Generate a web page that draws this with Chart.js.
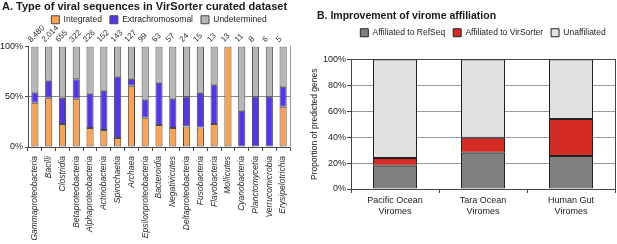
<!DOCTYPE html>
<html>
<head>
<meta charset="utf-8">
<script src="https://cdn.jsdelivr.net/npm/chart.js@4"></script>
<style>
  html, body { margin: 0; padding: 0; background: #fff; overflow: hidden; }
  body { width: 617px; height: 244px; position: relative; font-family: 'Liberation Sans', Arial, sans-serif; color: #1a1a1a; }
  .panel-title { position: absolute; font-weight: bold; white-space: nowrap; z-index: 2; }
  .box { position: absolute; top: 0; height: 244px; }
</style>
</head>
<body>
<div class="panel-title" style="left:2px; top:1px; font-size:11px; line-height:11px;">A. Type of viral sequences in VirSorter curated dataset</div>
<div class="panel-title" style="left:317px; top:10px; font-size:10.5px; line-height:10.5px;">B. Improvement of virome affiliation</div>
<div class="box" style="left:0; width:300px;"><canvas id="chartA"></canvas></div>
<div class="box" style="left:308px; width:309px;"><canvas id="chartB"></canvas></div>

<script>
// ---- panel A data ----
const groups = [
  'Gammaproteobacteria', 'Bacilli', 'Clostridia', 'Betaproteobacteria', 'Alphaproteobacteria',
  'Actinobacteria', 'Spirochaetia', 'Archaea', 'Epsilonproteobacteria', 'Bacteroidia',
  'Negativicutes', 'Deltaproteobacteria', 'Fusobacteria', 'Flavobacteria', 'Mollicutes',
  'Cyanobacteria', 'Planctomycetia', 'Verrucomicrobia', 'Erysipelotrichia'
];
const counts = ['8,480', '2,014', '655', '322', '226', '152', '143', '127', '99', '63',
                '57', '24', '15', '13', '13', '11', '8', '6', '5'];
const integrated       = [44, 49, 23, 48, 19, 17, 9, 61, 29, 22, 19, 20.5, 19.5, 23, 100, null, null, null, 40];
const extrachromosomal = [10, 17, 26, 19.5, 34, 39, 61, 7, 18, 42, 29, 29.5, 34.5, 39, null, 36, 50, 50, 20];
const undetermined     = [46, 34, 51, 32.5, 47, 44, 30, 32, 53, 36, 52, 50, 46, 38, null, 64, 50, 50, 40];

// ---- panel B data ----
const viromes = [['Pacific Ocean', 'Viromes'], ['Tara Ocean', 'Viromes'], ['Human Gut', 'Viromes']];
const refseq       = [18, 28, 25.5];
const virsorter    = [6, 11.5, 28.5];
const unaffiliated = [76, 60.5, 46];

Chart.defaults.font.family = "'Liberation Sans', Arial, sans-serif";
Chart.defaults.color = '#1a1a1a';
Chart.defaults.animation = false;

const pct = v => v + '%';

// sample sizes, written at 45deg above each bar of panel A
const countLabels = {
  id: 'countLabels',
  afterDraw(chart) {
    const { ctx, chartArea, scales: { x } } = chart;
    ctx.save();
    ctx.font = "8px 'Liberation Sans', Arial, sans-serif";
    ctx.fillStyle = '#333';
    ctx.textAlign = 'left';
    ctx.textBaseline = 'alphabetic';
    counts.forEach((c, i) => {
      ctx.save();
      ctx.translate(x.getPixelForValue(i) - 4, chartArea.top - 4);
      ctx.rotate(-Math.PI / 4);
      ctx.fillText(c, 0, 0);
      ctx.restore();
    });
    ctx.restore();
  },
};

// ---- A. stacked bars per taxon ----
new Chart(document.getElementById('chartA'), {
  type: 'bar',
  data: {
    labels: groups,
    datasets: [
      { label: 'Integrated',       data: integrated,       backgroundColor: '#FBA152' },
      { label: 'Extrachromosomal', data: extrachromosomal, backgroundColor: '#5534EC' },
      { label: 'Undetermined',     data: undetermined,     backgroundColor: '#B6B6B6' },
    ].map(d => ({ ...d, borderColor: '#4a4a4a', borderWidth: 1, borderSkipped: false,
                  barPercentage: 0.52, categoryPercentage: 1 })),
  },
  plugins: [countLabels],
  options: {
    responsive: true,
    maintainAspectRatio: false,
    layout: { padding: { top: 7.5, right: 10, left: 0, bottom: 0 } },
    plugins: {
      legend: {
        fullSize: false,
        labels: { boxWidth: 8, boxHeight: 8, padding: 8, font: { size: 8.5 } },
      },
      tooltip: { enabled: false },
    },
    scales: {
      x: {
        stacked: true,
        grid: { offset: true, drawOnChartArea: false, tickLength: 4, color: '#4a4a4a' },
        border: { color: '#4a4a4a' },
        ticks: { autoSkip: false, minRotation: 90, maxRotation: 90, padding: 5,
                 color: '#2a2a2a', font: { size: 8.5, style: 'italic' } },
        afterFit: s => { s.height = 97; },
      },
      // empty top axis: room for the counts under the legend
      x2: {
        position: 'top',
        grid: { display: false },
        border: { display: false },
        ticks: { display: false },
        afterFit: s => { s.height = 12.5; },
      },
      y: {
        stacked: true,
        min: 0,
        max: 100,
        ticks: { stepSize: 50, callback: pct, padding: 2, font: { size: 9 } },
        grid: { color: c => c.tick.value === 50 ? '#8c8c8c' : 'rgba(0,0,0,0)', tickColor: '#4a4a4a', tickLength: 3 },
        border: { color: '#4a4a4a' },
        afterFit: s => { s.width = 28; },
      },
      y2: {
        position: 'right',
        grid: { display: false },
        ticks: { display: false },
        border: { color: '#999' },
        afterFit: s => { s.width = 0; },
      },
    },
  },
});

// ---- B. virome affiliation ----
new Chart(document.getElementById('chartB'), {
  type: 'bar',
  data: {
    labels: viromes,
    datasets: [
      { label: 'Affiliated to RefSeq',    data: refseq,       backgroundColor: '#808080' },
      { label: 'Affiliated to VirSorter', data: virsorter,    backgroundColor: '#D42B25' },
      { label: 'Unaffiliated',            data: unaffiliated, backgroundColor: '#E0E0E0' },
    ].map(d => ({ ...d, borderColor: '#222', borderWidth: 1, borderSkipped: false,
                  barPercentage: 0.5, categoryPercentage: 1 })),
  },
  options: {
    responsive: true,
    maintainAspectRatio: false,
    layout: { padding: { top: 20.5, right: 2, left: 0, bottom: 0 } },
    plugins: {
      legend: {
        fullSize: false,
        labels: { boxWidth: 8, boxHeight: 8, padding: 8, font: { size: 8.5 } },
      },
      tooltip: { enabled: false },
    },
    scales: {
      x: {
        stacked: true,
        grid: { offset: true, drawOnChartArea: false, tickLength: 4, color: '#444' },
        border: { color: '#444' },
        ticks: { maxRotation: 0, padding: 2, font: { size: 9 } },
        afterFit: s => { s.height = 55; },
      },
      // empty top axis: keeps the gap under the legend
      x2: {
        position: 'top',
        grid: { display: false },
        border: { display: false },
        ticks: { display: false },
        afterFit: s => { s.height = 12.5; },
      },
      y: {
        stacked: true,
        min: 0,
        max: 100,
        ticks: { stepSize: 20, callback: pct, padding: 1, font: { size: 9 } },
        grid: { color: c => c.tick.value === 100 ? '#444' : '#9a9a9a', tickColor: '#444', tickLength: 4 },
        border: { color: '#444' },
        title: { display: true, text: 'Proportion of predicted genes', font: { size: 8.5 },
                 padding: { top: 2, bottom: 2 } },
        afterFit: s => { s.width = 43; },
      },
      y2: {
        position: 'right',
        grid: { display: false },
        ticks: { display: false },
        border: { color: '#444' },
        afterFit: s => { s.width = 0; },
      },
    },
  },
});
</script>
</body>
</html>
